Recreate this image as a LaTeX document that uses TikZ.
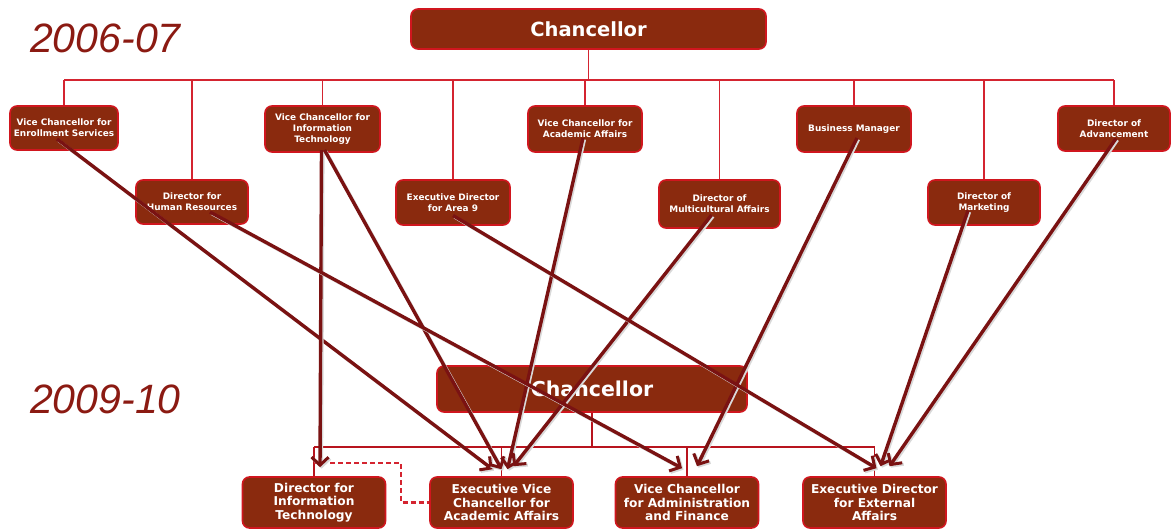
\documentclass[tikz,border=0pt]{standalone}
\usepackage{fontspec}
\usetikzlibrary{arrows.meta,calc}
\newfontfamily\dvs{DejaVu Sans}
\newfontfamily\lib{Liberation Sans}
\definecolor{boxfill}{HTML}{8A2A0E}
\definecolor{boxedge}{HTML}{D0161E}
\definecolor{orgline}{HTML}{D42430}
\definecolor{orgline2}{HTML}{B8141E}
\definecolor{arrcol}{HTML}{7A1212}
\definecolor{yearcol}{HTML}{8B1A12}
\tikzset{
  box/.style={rounded corners=7pt, fill=boxfill, draw=boxedge, line width=1.6pt,
    text=white, align=center, inner sep=0pt},
  sbox/.style={box, font=\dvs\bfseries\fontsize{8.9}{10.8}\selectfont},
  bbox/.style={box, font=\dvs\bfseries\fontsize{12.2}{13.6}\selectfont, minimum width=143pt, minimum height=51pt},
  org/.style={draw=orgline, line width=1.8pt},
  org2/.style={draw=orgline2, line width=1.6pt},
  mv/.style={draw=arrcol, line width=3.4pt,
    preaction={draw=black!15, line width=3.2pt, transform canvas={shift={(1.5pt,-1.5pt)}}},
    -{Straight Barb[length=8pt,width=17pt,line width=3pt]}},
  year/.style={text=yearcol, font=\lib\itshape\fontsize{41}{41}\selectfont, inner sep=0pt, anchor=base west}
}
\begin{document}
\begin{tikzpicture}[x=1pt,y=-1pt]
\useasboundingbox (0,0) rectangle (1175,531);
% years
\node[year] (y1) at (30,52) {2006-07};
\node[year] (y2) at (30,413) {2009-10};
% top chart
\node[box, font=\dvs\bfseries\fontsize{19.5}{19.5}\selectfont, minimum width=355pt, minimum height=40pt] (chan) at (588.5,29) {Chancellor};
\node[sbox, minimum width=108pt, minimum height=44pt] (ves) at (64,128) {Vice Chancellor for\\Enrollment Services};
\node[sbox, minimum width=115pt, minimum height=46pt] (vcit) at (322.5,129) {Vice Chancellor for\\Information\\Technology};
\node[sbox, minimum width=114pt, minimum height=46pt] (vcaa) at (585,129) {Vice Chancellor for\\Academic Affairs};
\node[sbox, minimum width=114pt, minimum height=46pt] (bm) at (854,129) {Business Manager};
\node[sbox, minimum width=112pt, minimum height=45pt] (adv) at (1114,128.5) {Director of\\Advancement};
\node[sbox, minimum width=112pt, minimum height=44pt] (dhr) at (192,202) {Director for\\Human Resources};
\node[sbox, minimum width=114pt, minimum height=45pt] (ed9) at (453,202.5) {Executive Director\\for Area 9};
\node[sbox, minimum width=121pt, minimum height=48pt] (dma) at (719.5,204) {Director of\\Multicultural Affairs};
\node[sbox, minimum width=112pt, minimum height=45pt] (dmk) at (984,202.5) {Director of\\Marketing};
\coordinate (bus) at (0,80);
\draw[org] (chan.south) -- (chan.south |- bus);
\draw[org] (ves.north |- bus) -- (adv.north |- bus);
\foreach \n in {ves,vcit,vcaa,bm,adv,dhr,ed9,dma,dmk}
  \draw[org] (\n.north) -- (\n.north |- bus);
% bottom chart
\node[box, font=\dvs\bfseries\fontsize{20.5}{20.5}\selectfont, minimum width=310pt, minimum height=46pt] (chan2) at (592,389) {Chancellor};
\node[bbox] (dit) at (314,502.5) {Director for\\Information\\Technology};
\node[bbox] (evc) at (501.5,502.5) {Executive Vice\\Chancellor for\\Academic Affairs};
\node[bbox] (vcaf) at (687,502.5) {Vice Chancellor\\for Administration\\and Finance};
\node[bbox] (edea) at (874.5,502.5) {Executive Director\\for External\\Affairs};
\coordinate (bus2) at (0,447);
\draw[org2] (chan2.south) -- (chan2.south |- bus2);
\draw[org2] (dit.north |- bus2) -- (edea.north |- bus2);
\foreach \n in {dit,evc,vcaf,edea}
  \draw[org2] (\n.north) -- (\n.north |- bus2);
\coordinate (dk) at (401,463);
\draw[org, dashed, dash pattern=on 5pt off 3pt, line width=2.2pt] (dit.north |- dk) -- (dk) -- (dk |- evc.west) -- (evc.west);
% moves
\draw[mv] ($(ves.center)+(-7,11)$) -- ($(evc.north)+(-9,-7)$);
\draw[mv] ($(vcit.center)+(-1,21)$) -- ($(dit.north)+(6,-9)$);
\draw[mv] ($(vcit.center)+(2,21)$) -- ($(evc.north)+(0,-7)$);
\draw[mv] ($(vcaa.center)+(-2,9)$) -- ($(evc.north)+(6,-7)$);
\draw[mv] ($(dma.center)+(-8,11)$) -- ($(evc.north)+(12,-10)$);
\draw[mv] ($(dhr.center)+(18,10)$) -- ($(vcaf.north)+(-5,-8)$);
\draw[mv] ($(bm.center)+(3,9)$) -- ($(vcaf.north)+(10,-10)$);
\draw[mv] ($(ed9.center)+(0,13)$) -- ($(edea.north)+(2,-8)$);
\draw[mv] ($(dmk.center)+(-16,8)$) -- ($(edea.north)+(6,-10)$);
\draw[mv] ($(adv.center)+(2,10)$) -- ($(edea.north)+(15,-10)$);
\end{tikzpicture}
\end{document}
